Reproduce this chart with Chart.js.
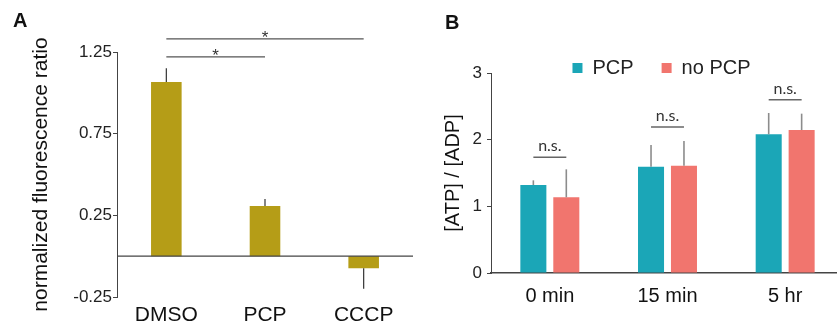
<!DOCTYPE html>
<html><head><meta charset="utf-8">
<script src="https://cdn.jsdelivr.net/npm/chart.js@4/dist/chart.umd.min.js"></script>
<style>
html,body{margin:0;padding:0;background:#fff;}
#wrap{position:relative;width:837px;height:322px;overflow:hidden;background:#fff;}
#ca{position:absolute;left:0;top:0;}
#cb{position:absolute;left:420px;top:0;}
.pl{position:absolute;font-family:"Liberation Sans",Arial,sans-serif;font-weight:bold;font-size:20px;color:#111;line-height:1;}
</style></head><body>
<div id="wrap">
<canvas id="ca" width="420" height="322"></canvas>
<canvas id="cb" width="424" height="322"></canvas>
<div class="pl" style="left:13px;top:10px">A</div>
<div class="pl" style="left:445px;top:12px">B</div>
</div>
<script>
// ---- Panel A data ----
const CAT_A = ['DMSO', 'PCP', 'CCCP'];
const VAL_A = [1.067, 0.307, -0.074];
const ERR_A = [0.083, 0.043, 0.126];
const TICKS_A = [-0.25, 0.25, 0.75, 1.25];
const TICK_LABELS_A = ['-0.25', '0.25', '0.75', '1.25'];
const SIG_FROM = [0, 0];
const SIG_TO = [1, 2];
const SIG_LEVEL = [1.22, 1.33];
const SIG_TEXT = ['*', '*'];

// ---- Panel B data ----
const CAT_B = ['0 min', '15 min', '5 hr'];
const SERIES_B = ['PCP', 'no PCP'];
const PCP_VAL = [1.32, 1.595, 2.08];
const PCP_ERR = [0.07, 0.325, 0.32];
const NOPCP_VAL = [1.135, 1.61, 2.145];
const NOPCP_ERR = [0.42, 0.37, 0.245];
const TICKS_B = [0, 1, 2, 3];
const TICK_LABELS_B = ['0', '1', '2', '3'];
const NS_LEVEL = [1.735, 2.19, 2.60];
const NS_TEXT = ['n.s.', 'n.s.', 'n.s.'];

const FONT = '"Liberation Sans", Arial, sans-serif';

const errorBars = {
  id: 'errorBars',
  afterDatasetsDraw(chart, args, opts) {
    const ctx = chart.ctx, ys = chart.scales.y;
    chart.data.datasets.forEach((ds, di) => {
      if (!ds.errors) return;
      const meta = chart.getDatasetMeta(di);
      meta.data.forEach((bar, i) => {
        const v = ds.data[i], e = ds.errors[i];
        const end = v + (v >= 0 ? e : -e);
        ctx.save();
        ctx.strokeStyle = opts.color; ctx.lineWidth = opts.width;
        ctx.beginPath();
        ctx.moveTo(bar.x, ys.getPixelForValue(v));
        ctx.lineTo(bar.x, ys.getPixelForValue(end));
        ctx.stroke();
        ctx.restore();
      });
    });
  }
};

const zeroLine = {
  id: 'zeroLine',
  afterDatasetsDraw(chart, args, opts) {
    const ctx = chart.ctx, ys = chart.scales.y, ca = chart.chartArea;
    const y0 = ys.getPixelForValue(0);
    ctx.save();
    ctx.strokeStyle = opts.color; ctx.lineWidth = opts.width;
    ctx.beginPath(); ctx.moveTo(ca.left, y0); ctx.lineTo(ca.right, y0); ctx.stroke();
    ctx.restore();
  }
};

const sigA = {
  id: 'sigA',
  afterDraw(chart, args, opts) {
    const ctx = chart.ctx, ys = chart.scales.y, meta = chart.getDatasetMeta(0);
    ctx.save();
    SIG_LEVEL.forEach((lv, k) => {
      const x1 = meta.data[SIG_FROM[k]].x, x2 = meta.data[SIG_TO[k]].x;
      const yy = ys.getPixelForValue(lv);
      ctx.strokeStyle = opts.color; ctx.lineWidth = opts.width;
      ctx.beginPath(); ctx.moveTo(x1, yy); ctx.lineTo(x2, yy); ctx.stroke();
      ctx.fillStyle = opts.textColor;
      ctx.font = '17px ' + FONT;
      ctx.textAlign = 'center'; ctx.textBaseline = 'alphabetic';
      ctx.fillText(SIG_TEXT[k], (x1 + x2) / 2, yy + 4);
    });
    ctx.restore();
  }
};

const nsB = {
  id: 'nsB',
  afterDraw(chart, args, opts) {
    const ctx = chart.ctx, ys = chart.scales.y;
    const m0 = chart.getDatasetMeta(0), m1 = chart.getDatasetMeta(1);
    ctx.save();
    NS_LEVEL.forEach((lv, i) => {
      const x1 = m0.data[i].x, x2 = m1.data[i].x;
      const yy = ys.getPixelForValue(lv);
      ctx.strokeStyle = opts.color; ctx.lineWidth = opts.width;
      ctx.beginPath(); ctx.moveTo(x1, yy); ctx.lineTo(x2, yy); ctx.stroke();
      ctx.fillStyle = opts.textColor;
      ctx.font = '16px Lato, "Open Sans", sans-serif';
      ctx.textAlign = 'center'; ctx.textBaseline = 'alphabetic';
      ctx.fillText(NS_TEXT[i], (x1 + x2) / 2, yy - 6);
    });
    ctx.restore();
  }
};

// shifts the legend box slightly (left) and lets its text overlap the plot top without being clipped
const legendNudge = {
  id: 'legendNudge',
  afterLayout(chart, args, opts) {
    const lg = chart.legend;
    if (!lg) return;
    lg.left += opts.dx; lg.right += opts.dx;
    lg.bottom += opts.extra; lg.height += opts.extra;
  }
};

new Chart(document.getElementById('ca'), {
  type: 'bar',
  data: {
    labels: CAT_A,
    datasets: [{
      data: VAL_A, errors: ERR_A,
      backgroundColor: '#b59d17', borderWidth: 0,
      barPercentage: 0.31, categoryPercentage: 1
    }]
  },
  options: {
    responsive: false, animation: false, devicePixelRatio: 1, events: [],
    layout: { padding: { top: 52, left: 0, right: 7, bottom: 0 } },
    plugins: {
      legend: { display: false }, tooltip: { enabled: false },
      errorBars: { color: '#333', width: 1.2 },
      zeroLine: { color: '#444', width: 1.3 },
      sigA: { color: '#555', width: 1.3, textColor: '#333' }
    },
    scales: {
      x: {
        grid: { display: false }, border: { display: false },
        ticks: { color: '#111', font: { family: FONT, size: 21 }, padding: -2 },
        afterFit(s) { s.height = 25; }
      },
      y: {
        min: -0.25, max: 1.25,
        afterBuildTicks(s) { s.ticks = TICKS_A.map(v => ({ value: v })); },
        ticks: { callback: (v, i) => TICK_LABELS_A[i], color: '#222', font: { family: FONT, size: 17 }, padding: 1 },
        grid: { drawOnChartArea: false, drawTicks: true, tickLength: 4, tickColor: '#444', lineWidth: 1 },
        border: { display: true, color: '#444', width: 1 },
        title: { display: true, text: 'normalized fluorescence ratio', color: '#111', font: { family: FONT, size: 21 }, padding: { top: 29, bottom: 0 } },
        afterFit(s) { s.width = 117; }
      }
    }
  },
  plugins: [errorBars, zeroLine, sigA]
});

new Chart(document.getElementById('cb'), {
  type: 'bar',
  data: {
    labels: CAT_B,
    datasets: [
      { label: SERIES_B[0], data: PCP_VAL, errors: PCP_ERR, backgroundColor: '#1ba6b7', borderWidth: 0, barPercentage: 0.79, categoryPercentage: 0.56 },
      { label: SERIES_B[1], data: NOPCP_VAL, errors: NOPCP_ERR, backgroundColor: '#f1756e', borderWidth: 0, barPercentage: 0.79, categoryPercentage: 0.56 }
    ]
  },
  options: {
    responsive: false, animation: false, devicePixelRatio: 1, events: [],
    layout: { padding: { top: 30, left: 0, right: 0, bottom: 0 } },
    plugins: {
      legend: {
        display: true, position: 'top', fullSize: false, align: 'center', maxHeight: 43,
        labels: { boxWidth: 10, boxHeight: 10, padding: 28, color: '#222', font: { family: FONT, size: 20 } }
      },
      legendNudge: { dx: -6, extra: 8 },
      tooltip: { enabled: false },
      errorBars: { color: '#8c8c8c', width: 1.6 },
      nsB: { color: '#666', width: 1.5, textColor: '#333' }
    },
    scales: {
      x: {
        grid: { display: false }, border: { display: true, color: '#444', width: 1.5 },
        ticks: { color: '#111', font: { family: FONT, size: 20 }, padding: 3 },
        afterFit(s) { s.height = 49; }
      },
      y: {
        min: 0, max: 3,
        afterBuildTicks(s) { s.ticks = TICKS_B.map(v => ({ value: v })); },
        ticks: { callback: (v, i) => TICK_LABELS_B[i], color: '#222', font: { family: FONT, size: 17 }, padding: 5 },
        grid: { drawOnChartArea: false, drawTicks: true, tickLength: 4, tickColor: '#444', lineWidth: 1 },
        border: { display: true, color: '#444', width: 1 },
        title: { display: true, text: '[ATP] / [ADP]', color: '#111', font: { family: FONT, size: 20 }, padding: { top: 21, bottom: 0 } },
        afterFit(s) { s.width = 71; }
      }
    }
  },
  plugins: [errorBars, nsB, legendNudge]
});
</script>
</body></html>
